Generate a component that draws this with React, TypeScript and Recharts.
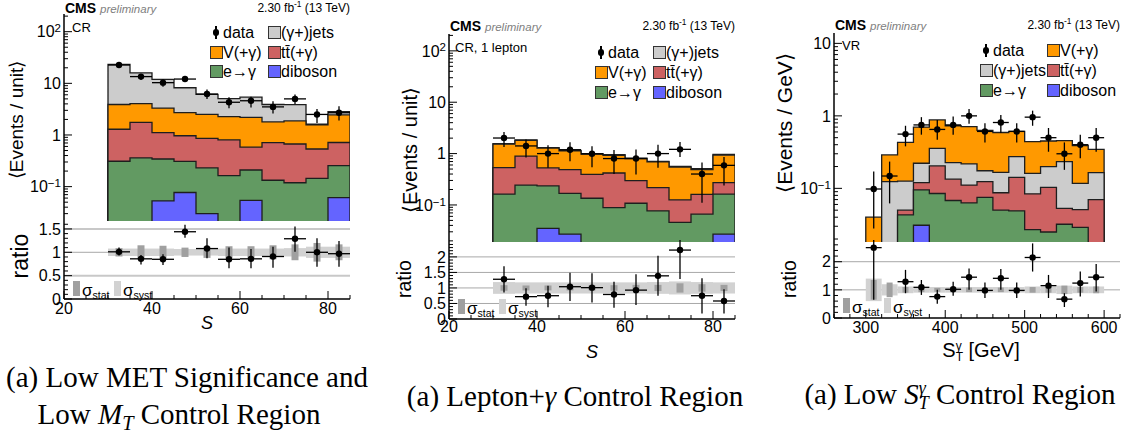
import React from "react";
import {
  ComposedChart,
  Area,
  Scatter,
  ErrorBar,
  XAxis,
  YAxis,
  ReferenceLine,
} from "recharts";

const FONT = '"Liberation Sans", Arial, Helvetica, sans-serif';
const SERIF = '"Liberation Serif", "Times New Roman", Times, serif';

const COL = {
  gjets: "#cccccc",
  vg: "#ff9900",
  ttg: "#cd6262",
  egamma: "#629a62",
  diboson: "#6464ff",
};

// ---------- panel 1: low MET significance / low M_T control region
const binLo1 = [30, 35, 40, 45, 50, 55, 60, 65, 70, 75, 80];
const gjets1 = [19.4, 11.9, 8.6, 5.5, 3.6, 2.8, 3.2, 2.1, 2.0, 0.05, 0.39];
const vg1 = [2.6, 2.3, 2.2, 1.74, 1.64, 1.46, 1.62, 1.08, 1.2, 1.03, 1.73];
const ttg1 = [0.98, 1.4, 0.77, 0.66, 0.63, 0.64, 0.37, 0.58, 0.55, 0.39, 0.46];
const egamma1 = [0.31, 0.36, 0.29, 0.23, 0.2, 0.163, 0.156, 0.133, 0.119, 0.145, 0.194];
const diboson1 = [0, 0, 0.053, 0.077, 0.03, 0, 0.054, 0, 0, 0, 0.061];
const data1 = [22.6, 13.5, 10.3, 12.1, 6.2, 4.3, 4.6, 3.5, 5.0, 2.5, 2.7];
const dataLo1 = [21.0, 11.6, 8.6, 10.6, 5.0, 3.3, 3.4, 2.6, 4.0, 1.7, 1.9];
const dataHi1 = [24.4, 15.1, 11.9, 13.9, 7.6, 5.4, 5.5, 4.5, 6.1, 3.2, 3.6];
const ratio1 = [1.01, 0.86, 0.85, 1.44, 1.08, 0.85, 0.86, 0.91, 1.29, 1.0, 0.97];
const ratioLo1 = [0.93, 0.74, 0.73, 1.31, 0.87, 0.66, 0.66, 0.67, 1.01, 0.69, 0.69];
const ratioHi1 = [1.1, 0.94, 0.96, 1.59, 1.3, 1.1, 1.07, 1.12, 1.55, 1.3, 1.24];
const stat1 = [0.09, 0.15, 0.14, 0.1, 0.12, 0.13, 0.13, 0.15, 0.17, 0.2, 0.17];
const syst1 = [0.08, 0.08, 0.08, 0.07, 0.07, 0.08, 0.08, 0.08, 0.09, 0.12, 0.12];

// ---------- panel 2: lepton + gamma control region
const binLo2 = [30, 35, 40, 45, 50, 55, 60, 65, 70, 75, 80];
const gjets2 = [0.03, 0.03, 0.02, 0.02, 0.02, 0.02, 0.02, 0.02, 0.02, 0.02, 0.03];
const vg2 = [0.99, 0.92, 0.76, 0.64, 0.58, 0.51, 0.5, 0.47, 0.42, 0.33, 0.66];
const ttg2 = [0.37, 0.65, 0.29, 0.32, 0.26, 0.33, 0.19, 0.14, 0.08, 0.094, 0.11];
const egamma2 = [0.163, 0.244, 0.2, 0.141, 0.135, 0.089, 0.108, 0.077, 0.046, 0.066, 0.136];
const diboson2 = [0, 0, 0.035, 0.027, 0, 0, 0, 0, 0, 0, 0.027];
const data2 = [2.01, 1.41, 1.0, 1.19, 0.99, 0.8, 0.8, 1.0, 1.21, 0.4, 0.59];
const dataLo2 = [1.35, 0.84, 0.53, 0.71, 0.54, 0.4, 0.39, 0.53, 0.86, 0.11, 0.24];
const dataHi2 = [2.63, 1.89, 1.45, 1.66, 1.39, 1.17, 1.2, 1.49, 1.68, 0.67, 0.86];
const ratio2 = [1.28, 0.72, 0.75, 1.04, 1.01, 0.79, 0.93, 1.39, 2.22, 0.75, 0.58];
const ratioLo2 = [0.85, 0.43, 0.38, 0.58, 0.53, 0.36, 0.45, 0.75, 1.29, 0.18, 0.18];
const ratioHi2 = [1.7, 0.99, 1.07, 1.49, 1.47, 1.2, 1.44, 2.04, 2.8, 1.31, 0.96];
const stat2 = [0.09, 0.08, 0.08, 0.08, 0.08, 0.09, 0.1, 0.1, 0.15, 0.12, 0.1];
const syst2 = [0.19, 0.18, 0.18, 0.18, 0.18, 0.18, 0.18, 0.19, 0.21, 0.19, 0.18];

// ---------- panel 3: low S_T^gamma validation region (GeV, bins of 20)
const binLo3 = [300, 320, 340, 360, 380, 400, 420, 440, 460, 480, 500, 520, 540, 560, 580];
const vg3 = [0.04, 0.165, 0.304, 0.478, 0.523, 0.504, 0.493, 0.455, 0.424, 0.336, 0.279, 0.25, 0.222, 0.273, 0.181];
const gjets3 = [0, 0.124, 0.076, 0.102, 0.153, 0.093, 0.106, 0.051, 0.079, 0.132, 0.077, 0.097, 0.181, 0.066, 0.095];
const ttg3 = [0, 0, 0.007, 0.025, 0.119, 0.066, 0.048, 0.049, 0.037, 0.093, 0.057, 0.078, 0.021, 0.022, 0.058];
const egamma3 = [0, 0, 0.043, 0.064, 0.085, 0.068, 0.063, 0.075, 0.05, 0.049, 0.027, 0.025, 0.032, 0.029, 0.012];
const diboson3 = [0, 0, 0, 0.031, 0, 0, 0, 0, 0, 0, 0, 0, 0, 0, 0];
const data3 = [0.098, 0.148, 0.56, 0.75, 0.65, 0.75, 1.0, 0.61, 0.81, 0.61, 0.96, 0.5, 0.3, 0.4, 0.5];
const dataLo3 = [0.028, 0.062, 0.38, 0.55, 0.47, 0.55, 0.78, 0.43, 0.58, 0.43, 0.73, 0.32, 0.18, 0.26, 0.32];
const dataHi3 = [0.171, 0.234, 0.73, 0.96, 0.88, 0.98, 1.24, 0.79, 1.03, 0.79, 1.18, 0.68, 0.43, 0.55, 0.68];
const ratio3 = [2.5, null, 1.29, 1.09, 0.76, 1.02, 1.45, 0.98, 1.41, 0.98, 2.15, 1.15, 0.67, 1.24, 1.45];
const ratioLo3 = [0.65, null, 0.88, 0.82, 0.51, 0.79, 1.0, 0.71, 1.0, 0.71, 1.65, 0.71, 0.39, 0.76, 0.94];
const ratioHi3 = [3.2, null, 1.71, 1.35, 1.0, 1.29, 1.76, 1.26, 1.74, 1.26, 2.65, 1.53, 0.88, 1.65, 1.92];
const stat3 = [0.35, 0.26, 0.1, 0.08, 0.07, 0.08, 0.08, 0.08, 0.08, 0.07, 0.1, 0.1, 0.15, 0.1, 0.12];
const syst3 = [0.4, 0.2, 0.12, 0.1, 0.1, 0.1, 0.1, 0.1, 0.1, 0.1, 0.12, 0.12, 0.15, 0.12, 0.12];

// tick labels
const xLabels12 = [20, 40, 60, 80];
const xLabels3 = [300, 400, 500, 600];
const rLabels1 = [0, 0.5, 1, 1.5];
const rLabels2 = [0, 0.5, 1, 1.5, 2];
const rLabels3 = [0, 1, 2];

type Layer = { key: string; color: string; values: number[] };

type PanelCfg = {
  left: number;
  right: number;
  top: number;
  split: number;
  bottom: number;
  xDomain: [number, number];
  xStep: number;
  xLabels: number[];
  xLabelDy: number;
  yDomain: [number, number];
  rDomain: [number, number];
  rStep: number;
  rLabels: number[];
  rLines: { y: number; w: number; c: string }[];
  binLo: number[];
  binW: number;
  layers: Layer[]; // bottom -> top
  data: number[];
  dataLo: number[];
  dataHi: number[];
  ratio: (number | null)[];
  ratioLo: (number | null)[];
  ratioHi: (number | null)[];
  stat: number[];
  syst: number[];
  statPx: number;
};

const FLOOR = 1e-4;

// cumulative tops of the stack at bin edges, for step areas
function stackRows(binLo: number[], binW: number, layers: Layer[]) {
  const empty: Record<string, number> = {};
  layers.forEach((l) => (empty[l.key] = FLOOR));
  const cum = binLo.map((_, i) => {
    let s = 0;
    const row: Record<string, number> = {};
    layers.forEach((l) => {
      s += l.values[i];
      row[l.key] = s > 0 ? s : FLOOR;
    });
    return row;
  });
  const end = binLo[binLo.length - 1] + binW;
  return [
    { x: binLo[0], ...empty },
    ...binLo.map((x, i) => ({ x, ...cum[i] })),
    { x: end, ...cum[cum.length - 1] },
    { x: end, ...empty },
  ];
}

function pointRows(
  binLo: number[],
  binW: number,
  v: (number | null)[],
  lo: (number | null)[],
  hi: (number | null)[]
) {
  return binLo
    .map((b, i) => ({ b, y: v[i], l: lo[i], h: hi[i] }))
    .filter((p) => p.y != null)
    .map((p) => ({
      x: p.b + binW / 2,
      y: p.y as number,
      ey: [(p.y as number) - (p.l as number), (p.h as number) - (p.y as number)],
      ex: binW / 2,
    }));
}

function logTicks([lo, hi]: [number, number]) {
  const out: number[] = [];
  for (let e = Math.floor(Math.log10(lo)); e <= Math.ceil(Math.log10(hi)); e++) {
    for (let k = 1; k < 10; k++) {
      const v = +(k * Math.pow(10, e)).toPrecision(3);
      if (v >= lo && v <= hi) out.push(v);
    }
  }
  return out;
}

function linTicks([lo, hi]: [number, number], step: number) {
  const out: number[] = [];
  for (let i = 0; lo + i * step <= hi + 1e-9; i++) out.push(+(lo + i * step).toFixed(4));
  return out;
}

const isDecade = (v: number) => Math.abs(Math.log10(v) - Math.round(Math.log10(v))) < 1e-6;

function logLabel(v: number): React.ReactNode {
  const e = Math.round(Math.log10(v));
  if (e === 0) return "1";
  if (e === 1) return "10";
  return (
    <>
      10
      <tspan dy="-0.45em" fontSize="0.72em">
        {e < 0 ? "\u2212" + -e : String(e)}
      </tspan>
    </>
  );
}

type Side = "left" | "right" | "top" | "bottom";

function tickFn(
  side: Side,
  isMajor: (v: number) => boolean,
  label?: (v: number) => React.ReactNode,
  fs = 16,
  gap = 4
) {
  return (props: any) => {
    const { x, y, payload } = props;
    const v = payload.value as number;
    const big = isMajor(v);
    const len = big ? 8 : 4;
    let l = { x1: x, x2: x, y1: y, y2: y };
    if (side === "left") l = { x1: x, x2: x + len, y1: y, y2: y };
    if (side === "right") l = { x1: x, x2: x - len, y1: y, y2: y };
    if (side === "top") l = { x1: x, x2: x, y1: y, y2: y + len };
    if (side === "bottom") l = { x1: x, x2: x, y1: y, y2: y - len };
    let txt = null;
    if (big && label && side === "left")
      txt = (
        <text x={x - gap} y={y} dy="0.36em" textAnchor="end" fontSize={fs} fontFamily={FONT} fill="#000">
          {label(v)}
        </text>
      );
    if (big && label && side === "bottom")
      txt = (
        <text x={x} y={y + gap} textAnchor="middle" fontSize={fs} fontFamily={FONT} fill="#000">
          {label(v)}
        </text>
      );
    return (
      <g>
        <line {...l} stroke="#000" strokeWidth={1} />
        {txt}
      </g>
    );
  };
}

const FRAME = { stroke: "#000", strokeWidth: 1.5 };
const YW = 60;
const M = 2;
const XH = 34;

const Txt: React.FC<{
  x: number;
  y: number;
  size: number;
  anchor?: "start" | "middle" | "end";
  rotate?: boolean;
  font?: string;
  style?: React.CSSProperties;
  children: React.ReactNode;
}> = ({ x, y, size, anchor = "start", rotate, font = FONT, style, children }) => {
  const tx = anchor === "start" ? "0" : anchor === "middle" ? "-50%" : "-100%";
  return (
    <div
      style={{
        position: "absolute",
        left: x,
        top: y,
        transform: rotate ? "translate(-50%, -50%) rotate(-90deg)" : `translate(${tx}, -50%)`,
        fontFamily: font,
        fontSize: size,
        lineHeight: 1,
        whiteSpace: "nowrap",
        color: "#000",
        ...style,
      }}
    >
      {children}
    </div>
  );
};

const Sub: React.FC<{ children: React.ReactNode; up?: boolean; s?: number }> = ({ children, up, s = 0.65 }) => (
  <span style={{ fontSize: `${s}em`, verticalAlign: up ? "0.55em" : "-0.3em", lineHeight: 0 }}>{children}</span>
);

function PanelView({ p }: { p: PanelCfg }) {
  const plotW = p.right - p.left;
  const upH = p.split - p.top;
  const rH = p.bottom - p.split;
  const rows = stackRows(p.binLo, p.binW, p.layers);
  const pts = pointRows(p.binLo, p.binW, p.data, p.dataLo, p.dataHi);
  const rpts = pointRows(p.binLo, p.binW, p.ratio, p.ratioLo, p.ratioHi);
  const bands = p.binLo.map((b, i) => ({ x: b + p.binW / 2, y: 1, st: p.stat[i], sy: p.syst[i] }));
  const binPx = (plotW * p.binW) / (p.xDomain[1] - p.xDomain[0]);
  const xTicks = linTicks(p.xDomain, p.xStep);
  const yTicks = logTicks(p.yDomain);
  const rTicks = linTicks(p.rDomain, p.rStep);
  const xMajor = (v: number) => p.xLabels.some((t) => Math.abs(t - v) < 1e-6);
  const rMajor = (v: number) => p.rLabels.some((t) => Math.abs(t - v) < 1e-6);
  const dot = (props: any) => <circle cx={props.cx} cy={props.cy} r={3.2} fill="#000" />;
  const none = () => <g />;
  const drawOrder = [...p.layers].reverse();

  return (
    <>
      <div style={{ position: "absolute", left: p.left - YW, top: p.top - M }}>
        <ComposedChart
          width={YW + plotW + M}
          height={upH + 2 * M}
          data={rows}
          margin={{ top: M, right: M, bottom: M, left: 0 }}
        >
          <XAxis xAxisId="b" dataKey="x" type="number" domain={p.xDomain} allowDataOverflow ticks={xTicks}
            interval={0} height={0} tickSize={0} tickMargin={0} tickLine={false} axisLine={FRAME}
            tick={tickFn("bottom", xMajor)} />
          <XAxis xAxisId="t" orientation="top" dataKey="x" type="number" domain={p.xDomain} allowDataOverflow
            ticks={xTicks} interval={0} height={0} tickSize={0} tickMargin={0} tickLine={false} axisLine={FRAME}
            tick={tickFn("top", xMajor)} />
          <YAxis yAxisId="l" type="number" scale="log" domain={p.yDomain} allowDataOverflow ticks={yTicks}
            interval={0} width={YW} tickSize={0} tickMargin={0} tickLine={false} axisLine={FRAME}
            tick={tickFn("left", isDecade, logLabel, 16, 3)} />
          <YAxis yAxisId="r" orientation="right" type="number" scale="log" domain={p.yDomain} allowDataOverflow
            ticks={yTicks} interval={0} width={0} tickSize={0} tickMargin={0} tickLine={false} axisLine={FRAME}
            tick={tickFn("right", isDecade)} />
          {drawOrder.map((l) => (
            <Area key={l.key} xAxisId="b" yAxisId="l" type="stepAfter" dataKey={l.key} fill={l.color}
              fillOpacity={1} stroke="#1e1e1e" strokeWidth={1.3} dot={false} activeDot={false}
              isAnimationActive={false} />
          ))}
          <Scatter xAxisId="b" yAxisId="l" data={pts} dataKey="y" shape={dot} isAnimationActive={false}>
            <ErrorBar dataKey="ey" direction="y" width={0} stroke="#000" strokeWidth={1.3} />
            <ErrorBar dataKey="ex" direction="x" width={0} stroke="#000" strokeWidth={1.3} />
          </Scatter>
        </ComposedChart>
      </div>

      <div style={{ position: "absolute", left: p.left - YW, top: p.split - M }}>
        <ComposedChart
          width={YW + plotW + M}
          height={rH + M + XH}
          data={bands}
          margin={{ top: M, right: M, bottom: 0, left: 0 }}
        >
          <XAxis xAxisId="b" dataKey="x" type="number" domain={p.xDomain} allowDataOverflow ticks={xTicks}
            interval={0} height={XH} tickSize={0} tickMargin={0} tickLine={false} axisLine={FRAME}
            tick={tickFn("bottom", xMajor, (v) => String(v), 16, p.xLabelDy)} />
          <XAxis xAxisId="t" orientation="top" dataKey="x" type="number" domain={p.xDomain} allowDataOverflow
            ticks={xTicks} interval={0} height={0} tickSize={0} tickMargin={0} tickLine={false} axisLine={FRAME}
            tick={tickFn("top", xMajor)} />
          <YAxis yAxisId="l" type="number" domain={p.rDomain} allowDataOverflow ticks={rTicks} interval={0}
            width={YW} tickSize={0} tickMargin={0} tickLine={false} axisLine={FRAME}
            tick={tickFn("left", rMajor, (v) => String(v), 16, 3)} />
          <YAxis yAxisId="r" orientation="right" type="number" domain={p.rDomain} allowDataOverflow ticks={rTicks}
            interval={0} width={0} tickSize={0} tickMargin={0} tickLine={false} axisLine={FRAME}
            tick={tickFn("right", rMajor)} />
          {p.rLines.map((r) => (
            <ReferenceLine key={r.y} xAxisId="b" yAxisId="l" y={r.y} stroke={r.c} strokeWidth={r.w} />
          ))}
          <Scatter xAxisId="b" yAxisId="l" data={bands} dataKey="y" shape={none} isAnimationActive={false}>
            <ErrorBar dataKey="sy" direction="y" width={0} stroke="#d2d2d2" strokeWidth={binPx} />
          </Scatter>
          <Scatter xAxisId="b" yAxisId="l" data={bands} dataKey="y" shape={none} isAnimationActive={false}>
            <ErrorBar dataKey="st" direction="y" width={0} stroke="#a0a0a0" strokeWidth={p.statPx} />
          </Scatter>
          <Scatter xAxisId="b" yAxisId="l" data={rpts} dataKey="y" shape={dot} isAnimationActive={false}>
            <ErrorBar dataKey="ey" direction="y" width={0} stroke="#000" strokeWidth={1.3} />
            <ErrorBar dataKey="ex" direction="x" width={0} stroke="#000" strokeWidth={1.3} />
          </Scatter>
        </ComposedChart>
      </div>
    </>
  );
}

type LegItem = { label: React.ReactNode; color?: string };

const Legend: React.FC<{ x: number; y: number; dx: number; dy: number; items: LegItem[][] }> = ({ x, y, dx, dy, items }) => (
  <>
    {items.map((row, r) =>
      row.map((it, c) => {
        const bx = x + c * dx;
        const by = y + r * dy;
        return (
          <React.Fragment key={`${r}-${c}`}>
            {it.color ? (
              <div style={{ position: "absolute", left: bx, top: by - 6, width: 11, height: 11, background: it.color, border: "1px solid #333" }} />
            ) : (
              <>
                <div style={{ position: "absolute", left: bx + 5, top: by - 6, width: 1.5, height: 13, background: "#000" }} />
                <div style={{ position: "absolute", left: bx + 2.5, top: by - 3, width: 6.5, height: 6.5, borderRadius: "50%", background: "#000" }} />
              </>
            )}
            <Txt x={bx + 13} y={by + 1} size={16}>{it.label}</Txt>
          </React.Fragment>
        );
      })
    )}
  </>
);

const TTBAR = "tt\u0304(+\u03b3)";

const RatioLegend: React.FC<{ x: number; y: number }> = ({ x, y }) => (
  <>
    <div style={{ position: "absolute", left: x, top: y, width: 7, height: 15, background: "#a0a0a0" }} />
    <Txt x={x + 9} y={y + 9} size={17}>
      σ<Sub s={0.62}>stat</Sub>
    </Txt>
    <div style={{ position: "absolute", left: x + 41, top: y, width: 7, height: 15, background: "#d2d2d2" }} />
    <Txt x={x + 50} y={y + 9} size={17}>
      σ<Sub s={0.62}>syst</Sub>
    </Txt>
  </>
);

const Header: React.FC<{ left: number; right: number; y: number }> = ({ left, right, y }) => (
  <>
    <Txt x={left + 1} y={y} size={14} style={{ fontWeight: "bold" }}>
      CMS <span style={{ fontWeight: "normal", fontStyle: "italic", color: "#808080", fontSize: 11.5 }}>preliminary</span>
    </Txt>
    <Txt x={right} y={y} size={12} anchor="end">
      2.30 fb<Sub up s={0.7}>-1</Sub> (13 TeV)
    </Txt>
  </>
);

const p1: PanelCfg = {
  left: 64, right: 350, top: 14, split: 221, bottom: 299,
  xDomain: [20, 85], xStep: 5, xLabels: xLabels12, xLabelDy: 15,
  yDomain: [0.0216, 220],
  rDomain: [0, 1.67], rStep: 0.1, rLabels: rLabels1,
  rLines: [
    { y: 0.5, w: 2, c: "#c8c8c8" },
    { y: 1, w: 1, c: "#a8a8a8" },
    { y: 1.5, w: 2, c: "#c8c8c8" },
  ],
  binLo: binLo1, binW: 5,
  layers: [
    { key: "diboson", color: COL.diboson, values: diboson1 },
    { key: "egamma", color: COL.egamma, values: egamma1 },
    { key: "ttg", color: COL.ttg, values: ttg1 },
    { key: "vg", color: COL.vg, values: vg1 },
    { key: "gjets", color: COL.gjets, values: gjets1 },
  ],
  data: data1, dataLo: dataLo1, dataHi: dataHi1,
  ratio: ratio1, ratioLo: ratioLo1, ratioHi: ratioHi1,
  stat: stat1, syst: syst1, statPx: 7,
};

const p2: PanelCfg = {
  left: 449, right: 735, top: 34, split: 242, bottom: 319,
  xDomain: [20, 85], xStep: 5, xLabels: xLabels12, xLabelDy: 13,
  yDomain: [0.019, 213],
  rDomain: [0, 2.48], rStep: 0.1, rLabels: rLabels2,
  rLines: [
    { y: 0.5, w: 1, c: "#a8a8a8" },
    { y: 1, w: 1, c: "#a8a8a8" },
    { y: 1.5, w: 1, c: "#a8a8a8" },
    { y: 2, w: 1, c: "#a8a8a8" },
  ],
  binLo: binLo2, binW: 5,
  layers: [
    { key: "diboson", color: COL.diboson, values: diboson2 },
    { key: "egamma", color: COL.egamma, values: egamma2 },
    { key: "ttg", color: COL.ttg, values: ttg2 },
    { key: "vg", color: COL.vg, values: vg2 },
    { key: "gjets", color: COL.gjets, values: gjets2 },
  ],
  data: data2, dataLo: dataLo2, dataHi: dataHi2,
  ratio: ratio2, ratioLo: ratioLo2, ratioHi: ratioHi2,
  stat: stat2, syst: syst2, statPx: 7,
};

const p3: PanelCfg = {
  left: 834, right: 1120, top: 33, split: 242, bottom: 318,
  xDomain: [260, 620], xStep: 20, xLabels: xLabels3, xLabelDy: 15,
  yDomain: [0.0182, 13.9],
  rDomain: [0, 2.7], rStep: 0.2, rLabels: rLabels3,
  rLines: [
    { y: 1, w: 1, c: "#a8a8a8" },
    { y: 2, w: 1, c: "#a8a8a8" },
  ],
  binLo: binLo3, binW: 20,
  layers: [
    { key: "diboson", color: COL.diboson, values: diboson3 },
    { key: "egamma", color: COL.egamma, values: egamma3 },
    { key: "ttg", color: COL.ttg, values: ttg3 },
    { key: "gjets", color: COL.gjets, values: gjets3 },
    { key: "vg", color: COL.vg, values: vg3 },
  ],
  data: data3, dataLo: dataLo3, dataHi: dataHi3,
  ratio: ratio3, ratioLo: ratioLo3, ratioHi: ratioHi3,
  stat: stat3, syst: syst3, statPx: 6,
};

const STgamma = (
  <>
    S
    <span style={{ display: "inline-block", verticalAlign: "-0.35em", lineHeight: 0.9, fontSize: "0.6em", textAlign: "left" }}>
      γ<br />T
    </span>
  </>
);

export default function App() {
  return (
    <div style={{ position: "absolute", left: 0, top: 0, width: 1123, height: 437, background: "#fff", overflow: "hidden" }}>
      <PanelView p={p1} />
      <PanelView p={p2} />
      <PanelView p={p3} />

      {/* panel 1 texts */}
      <Header left={64} right={350} y={8} />
      <Txt x={72} y={27} size={13}>CR</Txt>
      <Legend x={210} y={32} dx={58} dy={19.5} items={[
        [{ label: "data" }, { label: "(γ+)jets", color: COL.gjets }],
        [{ label: "V(+γ)", color: COL.vg }, { label: TTBAR, color: COL.ttg }],
        [{ label: "e→γ", color: COL.egamma }, { label: "diboson", color: COL.diboson }],
      ]} />
      <Txt x={16} y={120} size={19} rotate>⟨Events / unit⟩</Txt>
      <Txt x={20} y={256} size={23} rotate>ratio</Txt>
      <Txt x={207} y={323} size={18} anchor="middle" style={{ fontStyle: "italic" }}>S</Txt>
      <RatioLegend x={73} y={281} />

      {/* panel 2 texts */}
      <Header left={449} right={735} y={26} />
      <Txt x={455} y={47} size={13}>CR, 1 lepton</Txt>
      <Legend x={595} y={52} dx={58} dy={20} items={[
        [{ label: "data" }, { label: "(γ+)jets", color: COL.gjets }],
        [{ label: "V(+γ)", color: COL.vg }, { label: TTBAR, color: COL.ttg }],
        [{ label: "e→γ", color: COL.egamma }, { label: "diboson", color: COL.diboson }],
      ]} />
      <Txt x={410} y={150} size={20} rotate>⟨Events / unit⟩</Txt>
      <Txt x={405} y={279} size={19.5} rotate>ratio</Txt>
      <Txt x={592} y={352} size={18} anchor="middle" style={{ fontStyle: "italic" }}>S</Txt>
      <RatioLegend x={458} y={299} />

      {/* panel 3 texts */}
      <Header left={834} right={1120} y={25} />
      <Txt x={842} y={45} size={13}>VR</Txt>
      <Legend x={980} y={50} dx={67} dy={20} items={[
        [{ label: "data" }, { label: "V(+γ)", color: COL.vg }],
        [{ label: "(γ+)jets", color: COL.gjets }, { label: TTBAR, color: COL.ttg }],
        [{ label: "e→γ", color: COL.egamma }, { label: "diboson", color: COL.diboson }],
      ]} />
      <Txt x={784} y={123} size={21} rotate>⟨Events / GeV⟩</Txt>
      <Txt x={790} y={279} size={19.5} rotate>ratio</Txt>
      <Txt x={981} y={351} size={20} anchor="middle">{STgamma} [GeV]</Txt>
      <RatioLegend x={843} y={298} />

      {/* captions */}
      <Txt x={187} y={377} size={29} anchor="middle" font={SERIF}>(a) Low MET Significance and</Txt>
      <Txt x={179} y={414} size={29} anchor="middle" font={SERIF}>
        Low <i>M</i><Sub s={0.7}><i>T</i></Sub> Control Region
      </Txt>
      <Txt x={575} y={396} size={29} anchor="middle" font={SERIF}>(a) Lepton+<i>γ</i> Control Region</Txt>
      <Txt x={960} y={396} size={29} anchor="middle" font={SERIF}>
        (a) Low <i>S</i>
        <span style={{ display: "inline-block", verticalAlign: "-0.3em", lineHeight: 0.85, fontSize: "0.62em", textAlign: "left" }}>
          <i>γ</i><br /><i>T</i>
        </span>{" "}
        Control Region
      </Txt>
    </div>
  );
}
